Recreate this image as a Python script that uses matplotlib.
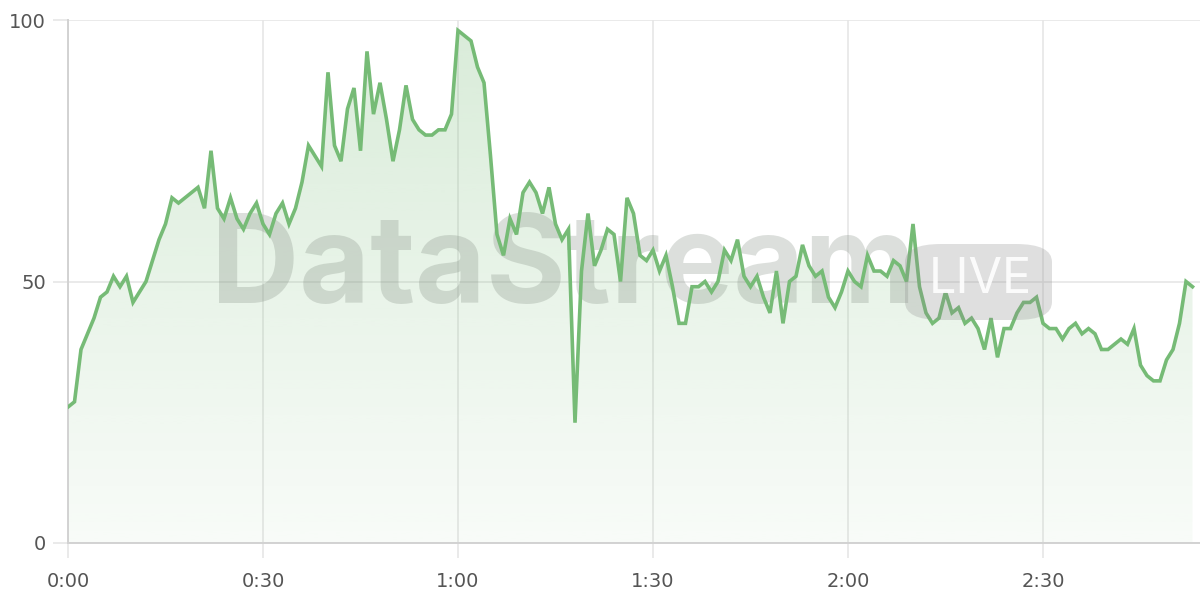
import numpy as np
import matplotlib
matplotlib.use("Agg")
import matplotlib.pyplot as plt
from matplotlib.patches import FancyBboxPatch, Polygon

# ---- data ----
values = [26, 27, 37, 40, 43, 47, 48, 51, 49, 51,
          46, 48, 50, 54, 58, 61, 66, 65, 66, 67,
          68, 64, 75, 64, 62, 66, 62, 60, 63, 65,
          61, 59, 63, 65, 61, 64, 69, 76, 74, 72,
          90, 76, 73, 83, 87, 75, 94, 82, 88, 81,
          73, 79, 87.5, 81, 79, 78, 78, 79, 79, 82,
          98, 97, 96, 91, 88, 74, 59, 55, 62, 59,
          67, 69, 67, 63, 68, 61, 58, 60, 23, 52,
          63, 53, 56, 60, 59, 50, 66, 63, 55, 54,
          56, 52, 55, 49, 42, 42, 49, 49, 50, 48,
          50, 56, 54, 58, 51, 49, 51, 47, 44, 52,
          42, 50, 51, 57, 53, 51, 52, 47, 45, 48,
          52, 50, 49, 55, 52, 52, 51, 54, 53, 50,
          61, 49, 44, 42, 43, 48, 44, 45, 42, 43,
          41, 37, 43, 35.5, 41, 41, 44, 46, 46, 47,
          42, 41, 41, 39, 41, 42, 40, 41, 40, 37,
          37, 38, 39, 38, 41, 34, 32, 31, 31, 35,
          37, 42, 50, 49]
minutes = list(range(len(values)))
xtick_pos = [0, 30, 60, 90, 120, 150]
xtick_labels = ["0:00", "0:30", "1:00", "1:30", "2:00", "2:30"]
ytick_pos = [0, 50, 100]
ytick_labels = ["0", "50", "100"]

line_color = "#76bb76"
grid_color = "#e6e6e6"
axis_color = "#d2d2d2"
text_color = "#555555"

fig = plt.figure(figsize=(12, 6), dpi=100)
left_px, right_px, top_px, bottom_px = 68, 1200, 20, 543
ax = fig.add_axes([left_px / 1200, (600 - bottom_px) / 600,
                   (right_px - left_px) / 1200, (bottom_px - top_px) / 600])
ax.set_xlim(0, (right_px - left_px) / 6.5)
ax.set_ylim(0, 100)

x = np.array(minutes, dtype=float)
y = np.array(values, dtype=float)

# gradient fill under the line
verts = [(x[0], 0)] + list(zip(x, y)) + [(x[-1], 0)]
poly = Polygon(verts, closed=True, facecolor="none", edgecolor="none")
ax.add_patch(poly)
grad = np.linspace(0.05, 0.28, 256).reshape(-1, 1)
rgba = np.zeros((256, 1, 4))
rgba[..., 0] = 118 / 255
rgba[..., 1] = 187 / 255
rgba[..., 2] = 118 / 255
rgba[..., 3] = grad
im = ax.imshow(rgba, extent=[x[0], x[-1], 0, 100], origin="lower",
               aspect="auto", zorder=1, interpolation="bilinear")
im.set_clip_path(poly)

# grid
ax.set_xticks(xtick_pos)
ax.set_xticklabels(xtick_labels)
ax.set_yticks(ytick_pos)
ax.set_yticklabels(ytick_labels)
ax.grid(True, color=grid_color, linewidth=1.2, zorder=0)
ax.set_axisbelow(True)
for s in ["top", "right"]:
    ax.spines[s].set_visible(False)
for s in ["left", "bottom"]:
    ax.spines[s].set_color(axis_color)
    ax.spines[s].set_linewidth(1.4)
ax.tick_params(axis="both", colors=grid_color, length=11, width=1.2,
               labelcolor=text_color, labelsize=14)
ax.tick_params(axis="y", pad=5)
ax.tick_params(axis="x", pad=10)
for lab in ax.get_xticklabels() + ax.get_yticklabels():
    lab.set_fontfamily("DejaVu Sans")

# watermark
ax.text(0.126, 0.458, "DataStream", transform=ax.transAxes,
        fontsize=88, fontweight="bold", family="Inter", color="#7f8a7f",
        alpha=0.27, ha="left", va="baseline", zorder=2)
box = FancyBboxPatch((905 / 1200, (600 - 320) / 600), (1052 - 905) / 1200, (320 - 244) / 600,
                     boxstyle="round,pad=0,rounding_size=0.03",
                     transform=fig.transFigure, facecolor="#8c8c8c", alpha=0.27,
                     edgecolor="none", zorder=2)
fig.patches.append(box)
fig.text(980 / 1200, (600 - 280) / 600, "LIVE", fontsize=35, family="Inter",
         color="white", alpha=0.9, ha="center", va="center", zorder=3)

# line
ax.plot(x, y, color=line_color, linewidth=2.6, zorder=4, solid_joinstyle="miter")

fig.savefig("out.png", dpi=100)
